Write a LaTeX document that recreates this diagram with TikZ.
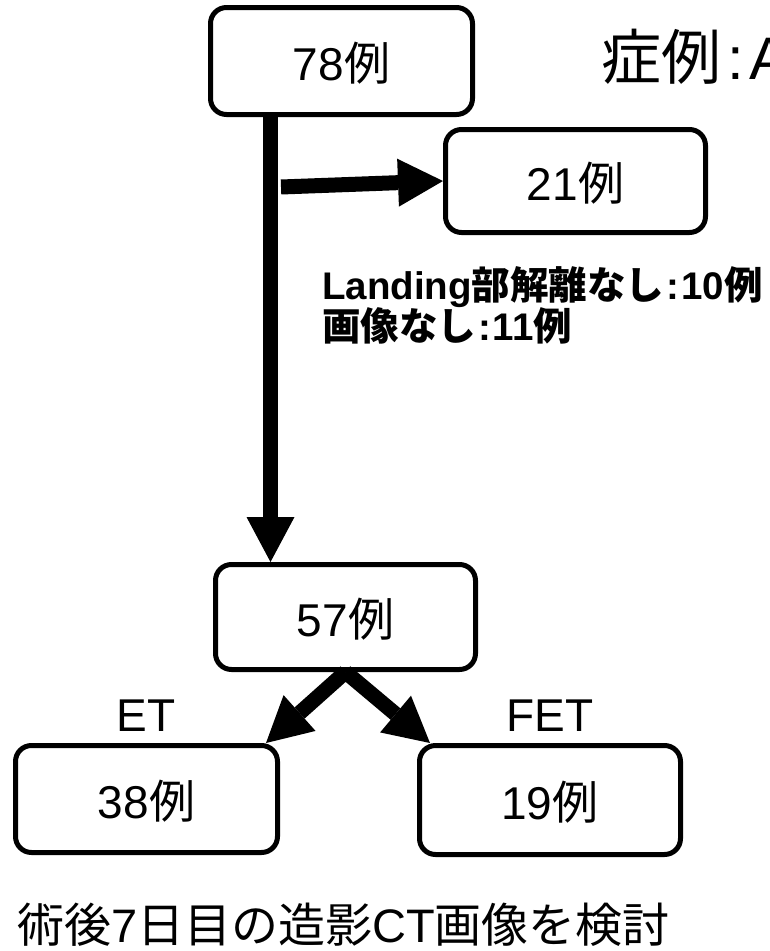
\documentclass[tikz,border=0pt]{standalone}
\usepackage{fontspec}
\setmainfont{Liberation Sans}
\newfontfamily\cjk{Noto Sans CJK JP}
\usetikzlibrary{arrows.meta}
\newcommand\jpn[1]{{\cjk #1}}
\begin{document}
\begin{tikzpicture}[x=1pt,y=-1pt,
  box/.style={draw, line width=5pt, rounded corners=16pt, minimum width=262pt, minimum height=107pt, inner sep=0pt, text height=38pt, text depth=0pt, font=\fontsize{46}{50}\selectfont},
  fat/.style={line width=15pt, -{Triangle[length=45pt,width=48pt,line width=0pt]}},
  lbl/.style={inner sep=0pt, anchor=base, font=\fontsize{46}{50}\selectfont},
  note/.style={inner sep=0pt, anchor=base west, font=\fontsize{38.5}{42}\selectfont\bfseries},
]
\useasboundingbox (0,0) rectangle (769,951);
\clip (0,0) rectangle (769,951);
\node[box] (n78) at (341.5,61) {78\jpn{例}};
\node[box, minimum width=260pt, minimum height=103pt] (n21) at (575.5,181) {21\jpn{例}};
\node[box, minimum width=260pt, minimum height=105pt] (n57) at (345.5,617) {57\jpn{例}};
\node[box] (n38) at (146.5,799) {38\jpn{例}};
\node[box, minimum width=261pt, minimum height=109pt] (n19) at (550,800) {19\jpn{例}};
\node[lbl] (et) at (146,731) {ET};
\node[lbl] (fet) at (550,731) {FET};
\node[inner sep=0pt, anchor=base west, font=\fontsize{60}{64}\selectfont] (title) at (601,79) {\jpn{症例}\hspace{6pt}:\hspace{6pt}A};
\node[note] (l1) at (322,299) {Landing\jpn{部解離なし}\hspace{2pt}:\hspace{2pt}10\jpn{例}};
\node[note] (l2) at (322,340) {\jpn{画像なし}\hspace{2pt}:\hspace{2pt}11\jpn{例}};
\node[inner sep=0pt, anchor=base west, font=\fontsize{47}{50}\selectfont] (foot) at (17,942) {\jpn{術後}7\jpn{日目の造影}CT\jpn{画像を検討}};
\coordinate (h0) at (281,187);
\draw[fat] ([xshift=-71pt]n78.south) -- ([xshift=-75pt]n57.north);
\draw[fat] (h0) -- (n21.west);
\draw[fat] (n57.south) -- ([xshift=-14pt]n38.north east);
\draw[fat] (n57.south) -- ([xshift=13pt]n19.north west);
\end{tikzpicture}
\end{document}
